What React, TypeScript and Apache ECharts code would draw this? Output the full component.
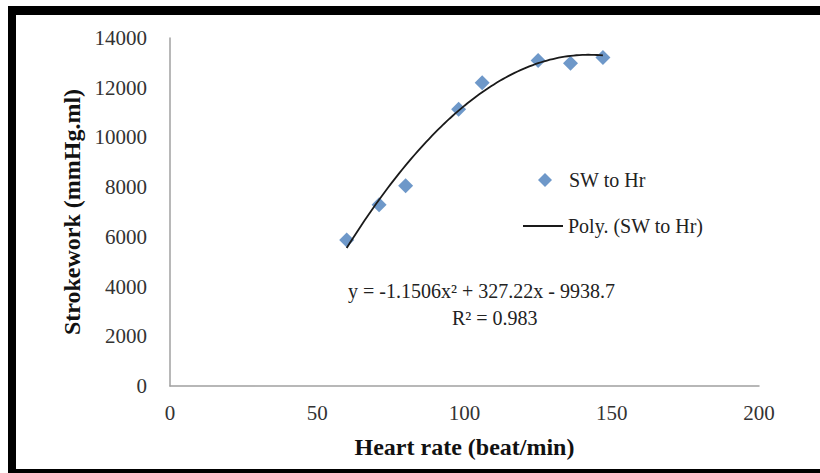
import React, { useEffect, useRef } from "react";
import * as echarts from "echarts";

// Observed data: heart rate (beat/min) vs stroke work (mmHg.ml)
const heartRate = [60, 71, 80, 98, 106, 125, 136, 147];
const strokeWork = [5870, 7290, 8060, 11130, 12200, 13090, 12980, 13220];

// Trendline coefficients as printed on the chart: y = a x^2 + b x + c
const trendCoeffs = [-1.1506, 327.22, -9938.7];
const equationLines = ["y = -1.1506x² + 327.22x - 9938.7", "R² = 0.983"];

const seriesName = "SW to Hr";
const trendName = "Poly. (SW to Hr)";
const xAxisName = "Heart rate (beat/min)";
const yAxisName = "Strokework (mmHg.ml)";

const xRange = [0, 200];
const xStep = 50;
const yRange = [0, 14000];
const yStep = 2000;

const FONT = "'Liberation Serif', 'Times New Roman', serif";

export default function App() {
  const ref = useRef<HTMLDivElement>(null);

  useEffect(() => {
    if (!ref.current) return;
    const chart = echarts.init(ref.current, null, { renderer: "svg" });

    const xMin = Math.min(...heartRate);
    const xMax = Math.max(...heartRate);
    const trend: number[][] = [];
    for (let x = xMin; x <= xMax; x += 1) {
      const [a, b, c] = trendCoeffs;
      trend.push([x, a * x * x + b * x + c]);
    }

    const axisLine = { show: true, lineStyle: { color: "#a0a0a0", width: 1.5 } };
    const labelStyle = {
      fontFamily: FONT,
      fontSize: 21,
      color: "#333",
      formatter: (v: number) => String(v),
    };
    const nameStyle = { fontFamily: FONT, fontSize: 24, fontWeight: "bold" as const, color: "#111" };

    chart.setOption({
      animation: false,
      backgroundColor: "#ffffff",
      grid: { left: 170, right: 61, top: 38, bottom: 87, containLabel: false },
      xAxis: {
        type: "value",
        min: xRange[0],
        max: xRange[1],
        interval: xStep,
        axisLine,
        axisTick: { show: false },
        splitLine: { show: false },
        axisLabel: { ...labelStyle, margin: 16 },
        name: xAxisName,
        nameLocation: "middle",
        nameGap: 49,
        nameTextStyle: nameStyle,
      },
      yAxis: {
        type: "value",
        min: yRange[0],
        max: yRange[1],
        interval: yStep,
        axisLine,
        axisTick: { show: false },
        splitLine: { show: false },
        axisLabel: { ...labelStyle, margin: 23 },
        name: yAxisName,
        nameLocation: "middle",
        nameRotate: 90,
        nameGap: 86,
        nameTextStyle: nameStyle,
      },
      legend: [
        {
          data: [{ name: seriesName, icon: "diamond" }],
          left: 533,
          top: 165,
          itemWidth: 14,
          itemHeight: 14,
          selectedMode: false,
          textStyle: { fontFamily: FONT, fontSize: 20, color: "#222", padding: [0, 0, 0, 12] },
        },
        {
          data: [{ name: trendName, icon: "rect" }],
          left: 518,
          top: 211,
          itemWidth: 40,
          itemHeight: 2,
          selectedMode: false,
          textStyle: { fontFamily: FONT, fontSize: 20, color: "#222" },
        },
      ],
      series: [
        {
          name: seriesName,
          type: "scatter",
          symbol: "diamond",
          symbolSize: 15,
          itemStyle: { color: "#4A7EBB" },
          data: heartRate.map((x, i) => [x, strokeWork[i]]),
          z: 2,
        },
        {
          name: trendName,
          type: "line",
          showSymbol: false,
          symbol: "none",
          lineStyle: { color: "#1a1a1a", width: 1.8 },
          itemStyle: { color: "#1a1a1a" },
          data: trend,
          z: 3,
        },
      ],
      graphic: [
        { type: "rect", shape: { x: 8, y: 6, width: 812, height: 9 }, style: { fill: "#000" } },
        { type: "rect", shape: { x: 8, y: 6, width: 8, height: 467 }, style: { fill: "#000" } },
        { type: "rect", shape: { x: 8, y: 469, width: 812, height: 4 }, style: { fill: "#000" } },
        {
          type: "text",
          x: 348,
          y: 291,
          style: {
            text: equationLines[0],
            fontFamily: FONT,
            fontSize: 20,
            fill: "#222",
            textAlign: "left",
            textVerticalAlign: "middle",
          },
        },
        {
          type: "text",
          x: 452,
          y: 318,
          style: {
            text: equationLines[1],
            fontFamily: FONT,
            fontSize: 20,
            fill: "#222",
            textAlign: "left",
            textVerticalAlign: "middle",
          },
        },
      ],
    });

    return () => chart.dispose();
  }, []);

  return (
    <div
      ref={ref}
      style={{ position: "fixed", left: 0, top: 0, width: 820, height: 473, background: "#fff" }}
    />
  );
}
